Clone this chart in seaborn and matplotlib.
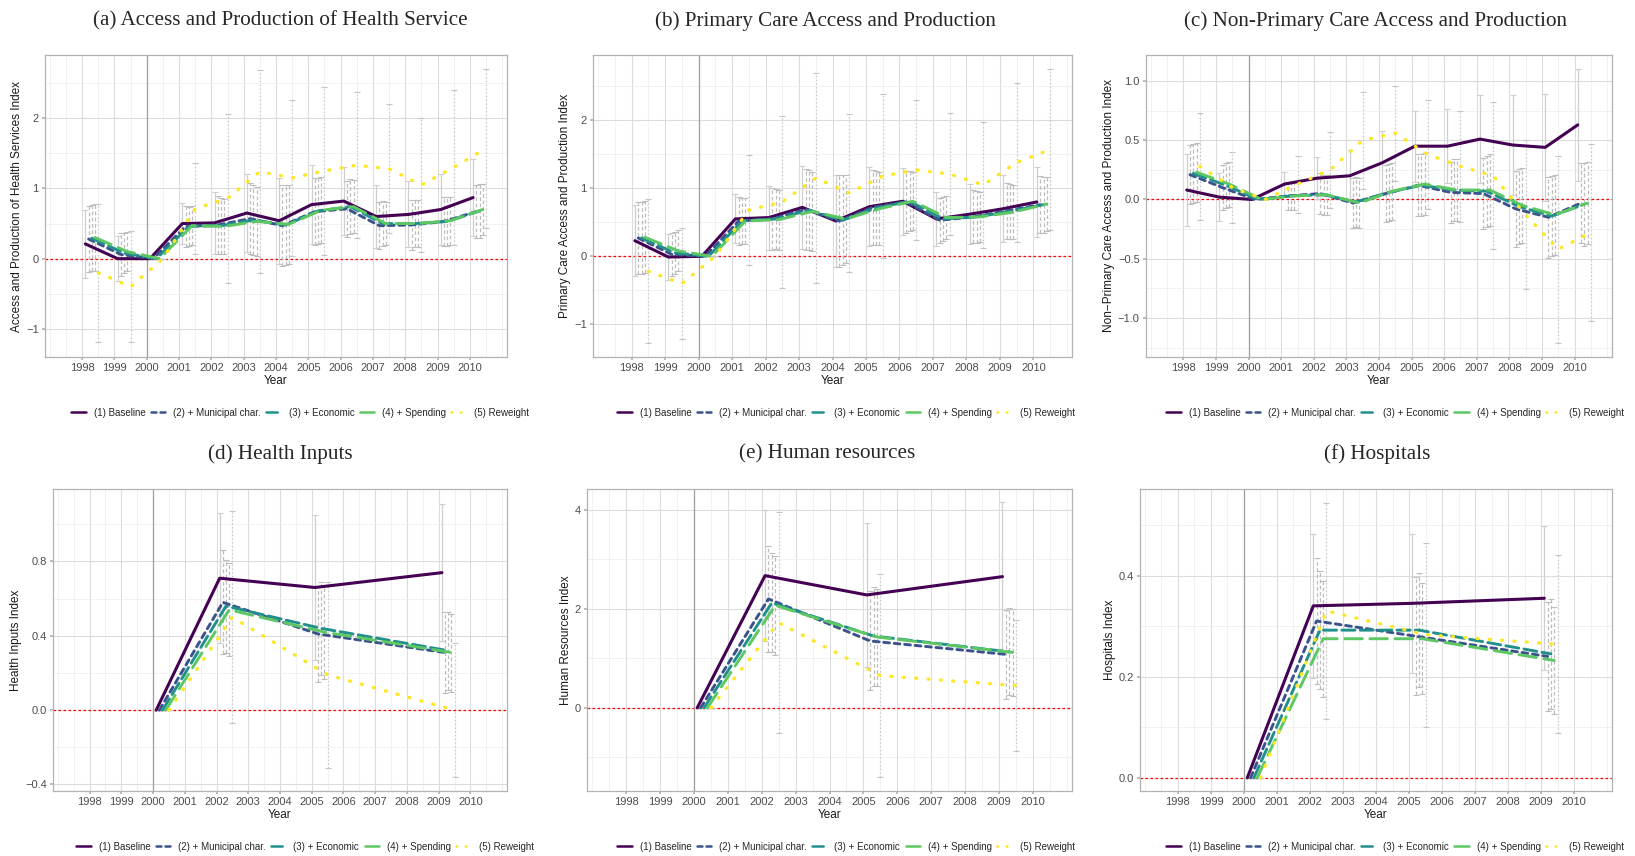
import numpy as np
import pandas as pd
import matplotlib
matplotlib.use("Agg")
import matplotlib.pyplot as plt
import seaborn as sns
from matplotlib.lines import Line2D
from matplotlib.ticker import MultipleLocator

sns.set_theme(style="white")
plt.rcParams['font.family'] = ['Liberation Sans', 'DejaVu Sans']

# ---- data ----
years_top = list(range(1998, 2011))
years_bot = [2000, 2002, 2005, 2009]

models = ["(1) Baseline", "(2) + Municipal char.", "(3) + Economic",
          "(4) + Spending", "(5) Reweight"]

# order of rows: baseline, municipal, economic, spending, reweight
a_coef = [[0.21, 0.00, 0, 0.50, 0.51, 0.65, 0.54, 0.77, 0.82, 0.60, 0.63, 0.70, 0.87],
          [0.28, 0.06, 0, 0.46, 0.48, 0.57, 0.47, 0.67, 0.71, 0.47, 0.48, 0.53, 0.67],
          [0.29, 0.08, 0, 0.46, 0.47, 0.55, 0.48, 0.68, 0.74, 0.50, 0.50, 0.53, 0.68],
          [0.30, 0.10, 0, 0.47, 0.46, 0.53, 0.49, 0.69, 0.74, 0.50, 0.50, 0.54, 0.70],
          [-0.20, -0.40, 0, 0.71, 0.86, 1.24, 1.15, 1.25, 1.33, 1.28, 1.05, 1.30, 1.57]]
a_err = [[0.48, 0.32, 0, 0.29, 0.44, 0.55, 0.61, 0.56, 0.49, 0.45, 0.47, 0.51, 0.55],
         [0.47, 0.30, 0, 0.29, 0.41, 0.51, 0.58, 0.48, 0.40, 0.33, 0.35, 0.35, 0.38],
         [0.47, 0.29, 0, 0.28, 0.40, 0.50, 0.57, 0.47, 0.39, 0.32, 0.33, 0.35, 0.38],
         [0.48, 0.28, 0, 0.28, 0.39, 0.49, 0.56, 0.47, 0.38, 0.31, 0.33, 0.34, 0.37],
         [0.98, 0.79, 0, 0.65, 1.20, 1.44, 1.11, 1.20, 1.04, 0.92, 0.95, 1.10, 1.13]]

b_coef = [[0.23, -0.01, 0, 0.55, 0.57, 0.72, 0.52, 0.73, 0.81, 0.55, 0.62, 0.70, 0.80],
          [0.27, 0.03, 0, 0.52, 0.55, 0.69, 0.52, 0.72, 0.80, 0.53, 0.58, 0.67, 0.76],
          [0.27, 0.05, 0, 0.52, 0.55, 0.68, 0.53, 0.71, 0.81, 0.55, 0.58, 0.66, 0.76],
          [0.28, 0.08, 0, 0.52, 0.54, 0.66, 0.55, 0.70, 0.81, 0.57, 0.58, 0.65, 0.77],
          [-0.22, -0.40, 0, 0.68, 0.80, 1.15, 0.93, 1.18, 1.27, 1.21, 1.05, 1.38, 1.57]]
b_err = [[0.52, 0.34, 0, 0.36, 0.47, 0.61, 0.68, 0.58, 0.49, 0.40, 0.44, 0.49, 0.52],
         [0.53, 0.32, 0, 0.35, 0.45, 0.60, 0.67, 0.55, 0.45, 0.33, 0.39, 0.41, 0.42],
         [0.53, 0.31, 0, 0.34, 0.44, 0.59, 0.66, 0.54, 0.44, 0.32, 0.38, 0.40, 0.41],
         [0.53, 0.30, 0, 0.34, 0.44, 0.58, 0.65, 0.54, 0.43, 0.31, 0.37, 0.40, 0.40],
         [1.06, 0.82, 0, 0.81, 1.27, 1.54, 1.16, 1.20, 1.03, 0.90, 0.93, 1.17, 1.18]]

c_coef = [[0.08, 0.02, 0, 0.13, 0.18, 0.20, 0.31, 0.45, 0.45, 0.51, 0.46, 0.44, 0.63],
          [0.21, 0.10, 0, 0.03, 0.05, -0.03, 0.05, 0.12, 0.06, 0.05, -0.08, -0.15, -0.03],
          [0.22, 0.12, 0, 0.03, 0.04, -0.02, 0.06, 0.12, 0.08, 0.07, -0.06, -0.14, -0.04],
          [0.23, 0.13, 0, 0.03, 0.04, -0.03, 0.07, 0.13, 0.08, 0.08, -0.05, -0.13, -0.03],
          [0.28, 0.10, 0, 0.13, 0.25, 0.50, 0.56, 0.38, 0.28, 0.20, -0.13, -0.42, -0.28]]
c_err = [[0.30, 0.20, 0, 0.10, 0.18, 0.22, 0.27, 0.30, 0.31, 0.37, 0.42, 0.45, 0.47],
         [0.25, 0.19, 0, 0.12, 0.17, 0.21, 0.24, 0.26, 0.26, 0.30, 0.32, 0.34, 0.34],
         [0.25, 0.19, 0, 0.12, 0.17, 0.21, 0.24, 0.26, 0.26, 0.30, 0.32, 0.34, 0.35],
         [0.25, 0.19, 0, 0.12, 0.17, 0.21, 0.24, 0.26, 0.26, 0.30, 0.32, 0.34, 0.35],
         [0.45, 0.30, 0, 0.24, 0.32, 0.41, 0.40, 0.46, 0.47, 0.62, 0.63, 0.79, 0.75]]

d_coef = [[0, 0.71, 0.66, 0.74],
          [0, 0.58, 0.41, 0.31],
          [0, 0.56, 0.44, 0.32],
          [0, 0.54, 0.42, 0.31],
          [0, 0.50, 0.19, 0.00]]
d_err = [[0, 0.35, 0.39, 0.37],
         [0, 0.28, 0.26, 0.22],
         [0, 0.25, 0.25, 0.21],
         [0, 0.25, 0.25, 0.21],
         [0, 0.57, 0.50, 0.36]]

e_coef = [[0, 2.67, 2.28, 2.65],
          [0, 2.20, 1.35, 1.08],
          [0, 2.12, 1.45, 1.13],
          [0, 2.07, 1.43, 1.12],
          [0, 1.72, 0.65, 0.45]]
e_err = [[0, 1.33, 1.45, 1.50],
         [0, 1.07, 1.00, 0.90],
         [0, 1.00, 1.00, 0.88],
         [0, 1.00, 0.98, 0.88],
         [0, 2.23, 2.05, 1.33]]

f_coef = [[0, 0.340, 0.345, 0.355],
          [0, 0.310, 0.280, 0.240],
          [0, 0.292, 0.292, 0.245],
          [0, 0.275, 0.275, 0.232],
          [0, 0.330, 0.283, 0.264]]
f_err = [[0, 0.143, 0.138, 0.142],
         [0, 0.124, 0.117, 0.107],
         [0, 0.116, 0.112, 0.108],
         [0, 0.115, 0.110, 0.106],
         [0, 0.213, 0.182, 0.176]]

# ---- styling ----
colors = ["#440154", "#3B528B", "#21908C", "#5DC863", "#FDE725"]
dashes = ["", (2.0, 1.6), (4.5, 1.8), (6.0, 2.6), (0.3, 3.4)]
widths = [2.2, 2.1, 2.1, 2.1, 2.4]
offsets = [0.1, 0.2, 0.3, 0.4, 0.5]
ci_ls = ["-", (0, (3, 2)), (0, (3, 2)), (0, (3, 2)), (0, (1, 2))]
ci_col = ["#CFCFCF", "#BDBDBD", "#BDBDBD", "#BDBDBD", "#C4C4C4"]


def draw_panel(ax, years, coef, err, ylabel, ylim, major, minor, leg_x):
    rows = []
    for i, m in enumerate(models):
        for y, c in zip(years, coef[i]):
            rows.append({"x": y + offsets[i], "coef": c, "model": m})
    df = pd.DataFrame(rows)

    # confidence intervals
    for i in range(5):
        xs = np.array(years) + offsets[i]
        eb = ax.errorbar(xs, coef[i], yerr=err[i], fmt="none", ecolor=ci_col[i],
                         elinewidth=0.9, capsize=2.5, capthick=0.8, zorder=2)
        eb[2][0].set_linestyle(ci_ls[i])

    sns.lineplot(data=df, x="x", y="coef", hue="model", style="model", size="model",
                 hue_order=models, style_order=models, size_order=models,
                 palette=dict(zip(models, colors)),
                 dashes=dict(zip(models, dashes)),
                 sizes=dict(zip(models, widths)),
                 legend=False, ax=ax, zorder=3, sort=True,
                 dash_capstyle="round")

    ax.axvline(2000, color="#9E9E9E", lw=0.9, zorder=1)
    ax.axhline(0, color="red", lw=0.9, ls=(0, (2, 2)), zorder=1.5)

    ax.set_xlim(1996.85, 2011.15)
    ax.set_ylim(*ylim)
    ax.set_xticks(years_top)
    ax.xaxis.set_minor_locator(MultipleLocator(0.5))
    ax.yaxis.set_major_locator(MultipleLocator(major))
    ax.yaxis.set_minor_locator(MultipleLocator(minor))
    ax.grid(which="major", color="#DCDCDC", lw=0.8)
    ax.grid(which="minor", color="#EDEDED", lw=0.5)
    ax.set_axisbelow(True)
    for s in ax.spines.values():
        s.set_color("#B3B3B3")
        s.set_linewidth(0.9)
    ax.tick_params(which="major", length=2.5, color="#B3B3B3", labelsize=8,
                   labelcolor="#4D4D4D", pad=2, bottom=True, left=True)
    ax.tick_params(which="minor", length=0)
    ax.set_xlabel("Year", fontsize=8.5, labelpad=1, color="#1A1A1A")
    ax.set_ylabel(ylabel, fontsize=8.5, labelpad=2, color="#1A1A1A")

    handles = [Line2D([], [], color=colors[i], lw=1.8, dash_capstyle="round",
                      linestyle="-" if i == 0 else (0, dashes[i]))
               for i in range(5)]
    ax.legend(handles, models, ncol=5, loc="center", bbox_to_anchor=(leg_x, -0.185),
              frameon=False, fontsize=7, handlelength=1.5, columnspacing=0.55,
              handletextpad=0.8)


fig = plt.figure(figsize=(16.35, 8.56), dpi=100)
W, H = 1635, 856

def add_ax(l, r, t, b):
    return fig.add_axes([l / W, 1 - b / H, (r - l) / W, (b - t) / H])

ax_a = add_ax(45, 507, 55, 357)
ax_b = add_ax(593, 1072, 55, 357)
ax_c = add_ax(1146, 1612, 55, 357)
ax_d = add_ax(53, 507, 489, 791)
ax_e = add_ax(587, 1072, 489, 791)
ax_f = add_ax(1140, 1612, 489, 791)

draw_panel(ax_a, years_top, a_coef, a_err,
           "Access and Production of Health Services Index", (-1.4, 2.9), 1, 0.5, 0.552)
draw_panel(ax_b, years_top, b_coef, b_err,
           "Primary Care Access and Production Index", (-1.48, 2.96), 1, 0.5, 0.528)
draw_panel(ax_c, years_top, c_coef, c_err,
           "Non\u2212Primary Care Access and Production Index", (-1.33, 1.22), 0.5, 0.25, 0.534)
draw_panel(ax_d, years_bot, d_coef, d_err,
           "Health Inputs Index", (-0.435, 1.19), 0.4, 0.2, 0.555)
draw_panel(ax_e, years_bot, e_coef, e_err,
           "Human Resources Index", (-1.68, 4.42), 2, 1, 0.534)
draw_panel(ax_f, years_bot, f_coef, f_err,
           "Hospitals Index", (-0.026, 0.571), 0.2, 0.1, 0.54)

titles = [("(a) Access and Production of Health Service", 280, 21),
          ("(b) Primary Care Access and Production", 825, 21),
          ("(c) Non-Primary Care Access and Production", 1375, 21),
          ("(d) Health Inputs", 280, 454),
          ("(e) Human resources", 827, 454),
          ("(f) Hospitals", 1377, 454)]
for t, x, y in titles:
    fig.text(x / W, 1 - y / H, t, ha="center", va="center", fontsize=15.2,
             family=["Liberation Serif", "DejaVu Serif"])

fig.savefig("out.png", dpi=100)
